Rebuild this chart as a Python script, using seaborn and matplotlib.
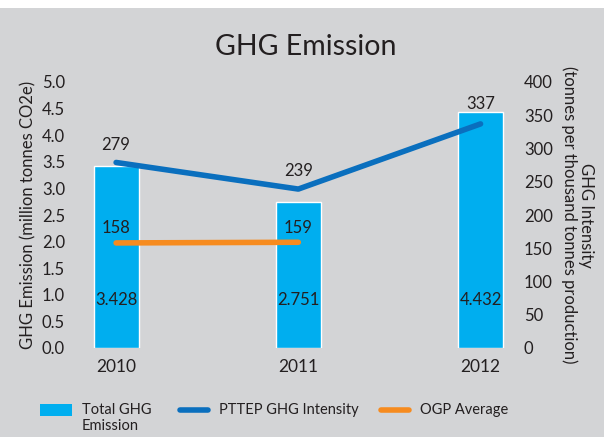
import matplotlib
matplotlib.use("Agg")
import matplotlib.pyplot as plt
import seaborn as sns
import pandas as pd
from matplotlib.patches import Rectangle
from matplotlib.lines import Line2D

years = ["2010", "2011", "2012"]
total_emission = [3.428, 2.751, 4.432]
intensity = [279, 239, 337]
ogp_years = ["2010", "2011"]
ogp_average = [158, 159]
left_ticks = [0.0, 0.5, 1.0, 1.5, 2.0, 2.5, 3.0, 3.5, 4.0, 4.5, 5.0]
right_ticks = [0, 50, 100, 150, 200, 250, 300, 350, 400]

BG = "#D3D4D6"
BAR = "#00AEEF"
LINE = "#0A6FBE"
ORANGE = "#F68B1F"
TXT = "#231F20"

sns.set_theme(style="white")
plt.rcParams["font.family"] = ["Lato", "DejaVu Sans"]

fig = plt.figure(figsize=(6.04, 4.37), dpi=100, facecolor=BG)
W, H = 604, 437
ax = fig.add_axes([72 / W, 1 - 348 / H, (517 - 72) / W, (348 - 82) / H])
ax.set_facecolor("none")

# white torn-paper strip at top
fig.patches.append(Rectangle((0, 1 - 8 / H), 1, 8 / H, transform=fig.transFigure,
                             facecolor="white", edgecolor="none", zorder=-1))

df = pd.DataFrame({"year": years, "total": total_emission})
sns.barplot(data=df, x="year", y="total", color=BAR, width=0.247, ax=ax,
            saturation=1, zorder=2)
ax.set_xlim(-0.242, 2.2)
ax.set_ylim(0, 5.0)
ax.set_yticks(left_ticks)
ax.set_yticklabels([f"{t:.1f}" for t in left_ticks])
ax.set_xlabel("")
ax.set_ylabel("GHG Emission (million tonnes CO2e)", fontsize=12, color=TXT, labelpad=4)
ax.tick_params(axis="both", length=0, labelsize=12, colors=TXT)
ax.tick_params(axis="x", pad=8, labelsize=12.5)
ax.tick_params(axis="y", pad=5)
for s in ax.spines.values():
    s.set_visible(False)

for i, v in enumerate(total_emission):
    ax.text(i, 0.9, f"{v:.3f}", ha="center", va="center", fontsize=12, color=TXT, zorder=5)

ax2 = ax.twinx()
ax2.set_ylim(0, 400)
xs = list(range(len(years)))
sns.lineplot(x=xs, y=intensity, ax=ax2, color=LINE, linewidth=4,
             solid_capstyle="round", zorder=4)
sns.lineplot(x=list(range(len(ogp_years))), y=ogp_average, ax=ax2, color=ORANGE,
             linewidth=4, solid_capstyle="round", zorder=4)
ax2.set_xlim(-0.242, 2.2)
ax2.set_yticks(right_ticks)
ax2.set_yticklabels([str(t) for t in right_ticks])
ax2.tick_params(axis="y", length=0, labelsize=12, colors=TXT, pad=5)
ax2.set_ylabel("GHG Intensity\n(tonnes per thousand tonnes production)", rotation=270,
               fontsize=12, color=TXT, labelpad=30, linespacing=1.1)
for s in ax2.spines.values():
    s.set_visible(False)

offsets = [27, 27, 30]
for i, v in enumerate(intensity):
    ax2.text(i, v + offsets[i], str(v), ha="center", va="center", fontsize=12, color=TXT)
for i, v in enumerate(ogp_average):
    ax2.text(i, v + 22, str(v), ha="center", va="center", fontsize=12, color=TXT)

fig.text(306 / W, 1 - 47 / H, "GHG Emission", ha="center", va="center",
         fontsize=20.5, color=TXT)

# legend
ly = 1 - 410 / H
fig.patches.append(Rectangle((40 / W, 1 - 416 / H), 32 / W, 12 / H, transform=fig.transFigure,
                             facecolor=BAR, edgecolor="none"))
fig.text(82 / W, ly, "Total GHG", ha="left", va="center", fontsize=10.5, color=TXT)
fig.text(82 / W, 1 - 426 / H, "Emission", ha="left", va="center", fontsize=10.5, color=TXT)
fig.lines.append(Line2D([180 / W, 208 / W], [ly, ly], transform=fig.transFigure,
                        color=LINE, linewidth=4, solid_capstyle="round"))
fig.text(219 / W, ly, "PTTEP GHG Intensity", ha="left", va="center", fontsize=10.5, color=TXT)
fig.lines.append(Line2D([381 / W, 409 / W], [ly, ly], transform=fig.transFigure,
                        color=ORANGE, linewidth=4, solid_capstyle="round"))
fig.text(420 / W, ly, "OGP Average", ha="left", va="center", fontsize=10.5, color=TXT)

fig.savefig("out.png", dpi=100, facecolor=BG)
